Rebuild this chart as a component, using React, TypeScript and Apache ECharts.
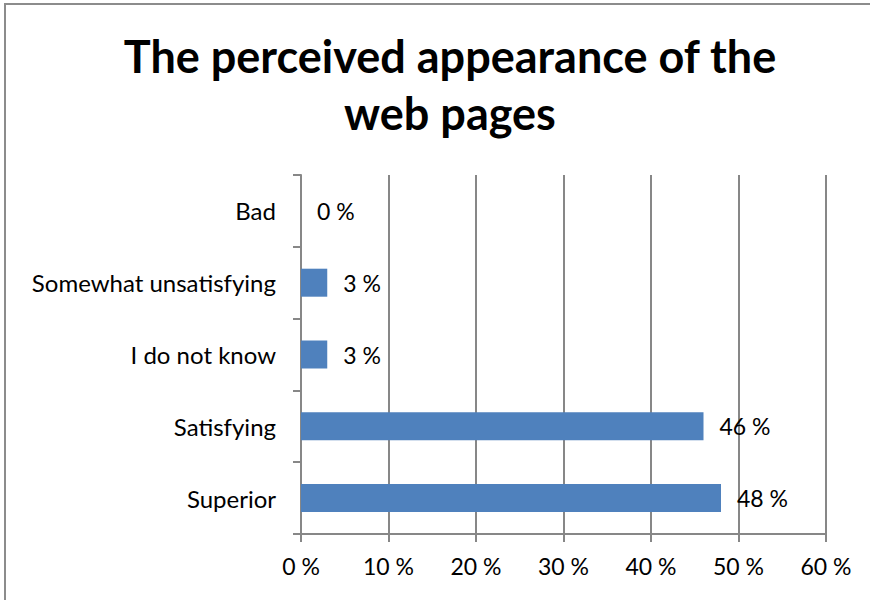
import React, { useEffect, useRef } from "react";
import * as echarts from "echarts";

const titleText = "The perceived appearance of the\nweb pages";
const categories = ["Superior", "Satisfying", "I do not know", "Somewhat unsatisfying", "Bad"];
const values = [48, 46, 3, 3, 0];
const xTicks = [0, 10, 20, 30, 40, 50, 60];

const FONT = "Lato, 'Open Sans', sans-serif";
const GRAY = "#878787";

export default function App() {
  const ref = useRef<HTMLDivElement>(null);
  useEffect(() => {
    if (!ref.current) return;
    const chart = echarts.init(ref.current, undefined, { renderer: "svg" });
    chart.setOption({
      animation: false,
      backgroundColor: "#ffffff",
      title: {
        text: titleText,
        left: 445,
        textAlign: "center",
        top: 22,
        textStyle: {
          fontFamily: FONT,
          fontSize: 45,
          fontWeight: "bold",
          color: "#000",
          lineHeight: 57,
        },
      },
      graphic: [
        {
          type: "rect",
          shape: { x: 5, y: 4, width: 900, height: 700 },
          style: { fill: "none", stroke: "#8c8c8c", lineWidth: 2 },
          silent: true,
        },
      ],
      grid: { left: 301, right: 44, top: 175, bottom: 66, containLabel: false },
      xAxis: {
        type: "value",
        min: xTicks[0],
        max: xTicks[xTicks.length - 1],
        interval: 10,
        axisLine: { show: true, lineStyle: { color: GRAY, width: 2 } },
        axisTick: { show: true, length: 8, lineStyle: { color: GRAY, width: 2 } },
        splitLine: { show: true, lineStyle: { color: GRAY, width: 2 } },
        axisLabel: {
          formatter: (v: number) => v + " %",
          fontFamily: FONT,
          fontSize: 23,
          color: "#000",
          margin: 20,
        },
      },
      yAxis: {
        type: "category",
        data: categories,
        axisLine: { show: true, lineStyle: { color: GRAY, width: 2 } },
        axisTick: { show: true, length: 8, lineStyle: { color: GRAY, width: 2 } },
        axisLabel: {
          fontFamily: FONT,
          fontSize: 24,
          color: "#000",
          margin: 25,
        },
      },
      series: [
        {
          type: "bar",
          data: values,
          barWidth: 28,
          itemStyle: { color: "#4F81BD" },
          label: {
            show: true,
            position: "right",
            distance: 16,
            formatter: (p: any) => p.value + " %",
            fontFamily: FONT,
            fontSize: 23,
            color: "#000",
          },
        },
      ],
    });
    return () => chart.dispose();
  }, []);
  return (
    <div
      ref={ref}
      style={{ width: 870, height: 600, position: "absolute", left: 0, top: 0 }}
    />
  );
}
